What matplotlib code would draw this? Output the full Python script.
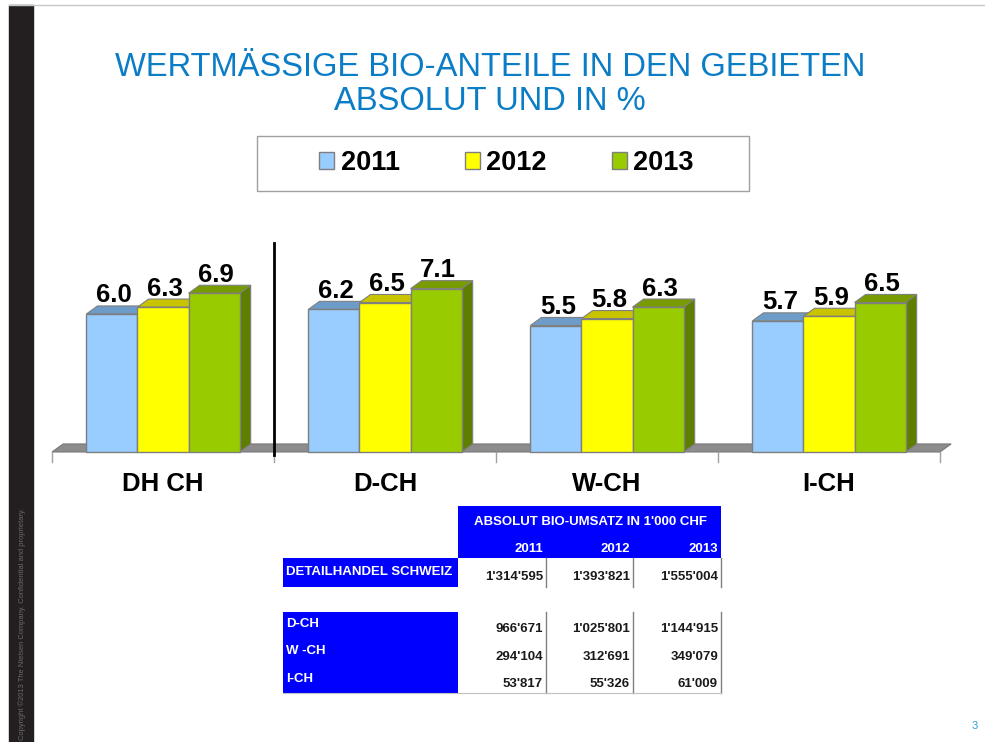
import matplotlib
matplotlib.use("Agg")
import matplotlib.pyplot as plt
from matplotlib.patches import Rectangle, Polygon, Patch

plt.rcParams['font.family'] = ['Liberation Sans', 'DejaVu Sans']

# ---- data ----
REGIONS = ['DH CH', 'D-CH', 'W-CH', 'I-CH']
YEARS = ['2011', '2012', '2013']
SHARE_2011 = [6.0, 6.2, 5.5, 5.7]
SHARE_2012 = [6.3, 6.5, 5.8, 5.9]
SHARE_2013 = [6.9, 7.1, 6.3, 6.5]

TABLE_TITLE = "ABSOLUT BIO-UMSATZ IN 1'000 CHF"
TOTAL_LABEL = 'DETAILHANDEL SCHWEIZ'
TOTAL_VALUES = ["1'314'595", "1'393'821", "1'555'004"]
REGION_LABELS = ['D-CH', 'W -CH', 'I-CH']
REGION_VALUES = [["966'671", "1'025'801", "1'144'915"],
                 ["294'104", "312'691", "349'079"],
                 ["53'817", "55'326", "61'009"]]

FRONT = ['#99CCFF', '#FFFF00', '#99CC00']
TOP = ['#6E9CC8', '#C8C400', '#789C00']
SIDE = ['#5A82AA', '#A09C00', '#5E7E00']
TITLE_BLUE = '#0B7DC6'
TABLE_BLUE = '#0000FF'

W, H = 985, 742
fig = plt.figure(figsize=(W / 100, H / 100), dpi=100)

# page layer in pixel coordinates
bg = fig.add_axes([0, 0, 1, 1])
bg.set_xlim(0, W)
bg.set_ylim(H, 0)
bg.axis('off')

bg.add_patch(Rectangle((9, 5), 24, H - 5, color='#231F20', zorder=1))
bg.plot([9, W], [5, 5], color='#C8C8C8', lw=1)
bg.text(22, 740, 'Copyright \u00a92013 The Nielsen Company. Confidential and proprietary.',
        rotation=90, fontsize=5.4, color='#6A6A6A', ha='center', va='bottom')
bg.text(975, 726, '3', fontsize=8, color='#2AA0E0', ha='center', va='center')

bg.text(490, 67, 'WERTMÄSSIGE BIO-ANTEILE IN DEN GEBIETEN', fontsize=23.6,
        color=TITLE_BLUE, ha='center', va='center')
bg.text(490, 102, 'ABSOLUT UND IN %', fontsize=23.6,
        color=TITLE_BLUE, ha='center', va='center')

# legend box
bg.add_patch(Rectangle((257, 136), 492, 55, facecolor='white',
                       edgecolor='#A0A0A0', lw=1))

# ---- table ----
FS = 9.5
bg.add_patch(Rectangle((458, 506), 263, 52, color=TABLE_BLUE, lw=0))
bg.add_patch(Rectangle((283, 558), 175, 29, color=TABLE_BLUE, lw=0))
bg.add_patch(Rectangle((283, 612), 175, 81, color=TABLE_BLUE, lw=0))
bg.text(590, 522, TABLE_TITLE, color='white', fontsize=FS, fontweight='bold',
        ha='center', va='center')
col_right = [543, 630, 718]
col_lines = [546, 633, 721]
for x, yr in zip(col_right, YEARS):
    bg.text(x, 549, yr, color='white', fontsize=FS, fontweight='bold',
            ha='right', va='center')
bg.text(286, 572, TOTAL_LABEL, color='white', fontsize=FS, fontweight='bold',
        ha='left', va='center')
for x, v in zip(col_right, TOTAL_VALUES):
    bg.text(x, 577, v, color='#1A1A1A', fontsize=FS, fontweight='bold',
            ha='right', va='center')
for x in col_lines:
    bg.plot([x, x], [558, 587], color='#808080', lw=1)
    bg.plot([x, x], [612, 693], color='#808080', lw=1)
bg.plot([283, 721], [693, 693], color='#C0C0C0', lw=0.8)
for k, (lab, vals) in enumerate(zip(REGION_LABELS, REGION_VALUES)):
    y = 628 + k * 27.5
    bg.text(286, y - 4, lab, color='white', fontsize=FS, fontweight='bold',
            ha='left', va='center')
    for x, v in zip(col_right, vals):
        bg.text(x, y + 1, v, color='#1A1A1A', fontsize=FS, fontweight='bold',
                ha='right', va='center')

# ---- 3D-looking bar chart ----
ax = fig.add_axes([52 / W, 1 - 465.8 / H, 888 / W, 232.3 / H])
ax.set_xlim(0, 4)
ax.set_ylim(-0.6, 9.5)
ax.axis('off')

dx, dy = 0.05, 0.35  # depth of the 3D effect
bw = 0.23
n = len(REGIONS)

floor = Polygon([(0, 0), (4, 0), (4 + dx, dy), (dx, dy)], closed=True,
                facecolor='#8C8C8C', edgecolor='#7A7A7A', lw=0.8,
                clip_on=False, zorder=1)
ax.add_patch(floor)
for i in range(n + 1):
    ax.plot([i, i], [0, -0.43], color='#A0A0A0', lw=1, clip_on=False, zorder=1)

series = [SHARE_2011, SHARE_2012, SHARE_2013]
for j, vals in enumerate(series):
    xs = [i + 0.5 + (j - 1) * bw for i in range(n)]
    z = 3 + j * 3
    ax.bar(xs, vals, width=bw, color=FRONT[j], edgecolor='#7F7F7F', lw=1,
           zorder=z + 2)
    for x, v in zip(xs, vals):
        x0 = x - bw / 2
        ax.add_patch(Polygon([(x0, v), (x0 + bw, v), (x0 + bw + dx, v + dy),
                              (x0 + dx, v + dy)], closed=True, facecolor=TOP[j],
                             edgecolor='#7F7F7F', lw=0.8, zorder=z + 1,
                             clip_on=False))
        ax.add_patch(Polygon([(x0 + bw, 0), (x0 + bw + dx, dy),
                              (x0 + bw + dx, v + dy), (x0 + bw, v)], closed=True,
                             facecolor=SIDE[j], edgecolor='#7F7F7F', lw=0.8,
                             zorder=z, clip_on=False))
        ax.text(x + 0.01, v + 0.5, f'{v:.1f}', fontsize=18.5, fontweight='bold',
                ha='center', va='baseline', zorder=20)

ax.plot([1, 1], [-0.15, 9.1], color='black', lw=2, zorder=20, clip_on=False)

for i, name in enumerate(REGIONS):
    ax.text(i + 0.5, -1.4, name, fontsize=18.5, fontweight='bold',
            ha='center', va='center', clip_on=False)

handles = [Patch(facecolor=c, edgecolor='#7F7F7F', lw=1) for c in FRONT]
fig.legend(handles, YEARS, loc='center', bbox_to_anchor=(506.5 / W, 1 - 163 / H),
           ncol=3, frameon=False, prop={'weight': 'bold', 'size': 19.5},
           handlelength=0.55, handleheight=0.55, handletextpad=0.25,
           columnspacing=2.4)

fig.savefig('out.png', dpi=100)
